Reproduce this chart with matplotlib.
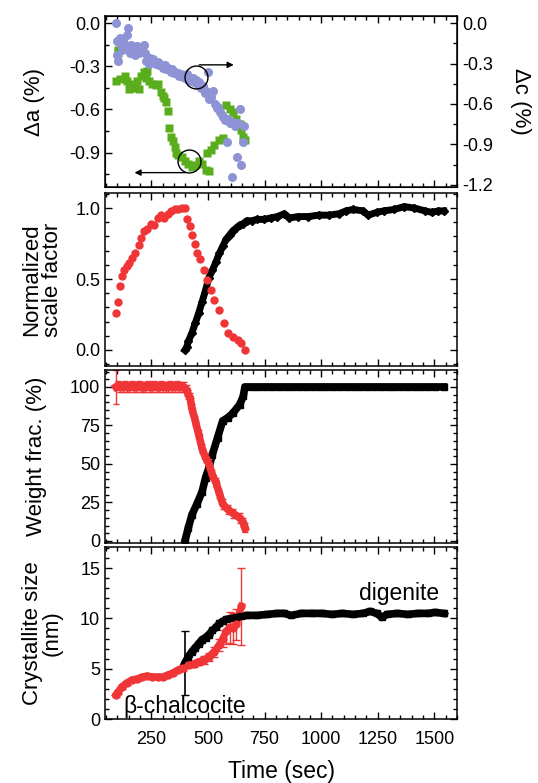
import matplotlib
matplotlib.use('Agg')
import matplotlib.pyplot as plt
from matplotlib.ticker import MultipleLocator

plt.rcParams['font.family'] = ['Liberation Sans', 'DejaVu Sans']
plt.rcParams['axes.unicode_minus'] = False

# ---------------- data ----------------
# top panel: change of lattice parameter c (blue circles, right axis)
dc_time = [93, 96, 99, 102, 106, 112, 118, 122, 128, 134, 140, 146, 150, 155, 160,
           166, 172, 178, 183, 188, 194, 199, 205, 210, 216, 222, 228, 234, 240, 246,
           252, 258, 265, 271, 278, 284, 290, 297, 303, 310, 316, 322, 330, 336, 343,
           350, 356, 362, 368, 374, 381, 388, 395, 400, 406, 412, 418, 425, 432, 440,
           447, 455, 462, 470, 478, 485, 492, 500, 506, 515, 522, 530, 538, 546, 553,
           560, 567, 575, 582, 590, 597, 604, 610, 618, 626, 632, 640, 648, 655, 660]
dc_val = [0.00, -0.13, -0.24, -0.28, -0.14, -0.11, -0.18, -0.20, -0.15, -0.17, -0.09,
          -0.04, -0.19, -0.22, -0.16, -0.18, -0.21, -0.24, -0.20, -0.17, -0.22, -0.19,
          -0.21, -0.18, -0.16, -0.22, -0.28, -0.26, -0.30, -0.26, -0.28, -0.27, -0.29,
          -0.30, -0.29, -0.31, -0.30, -0.32, -0.33, -0.31, -0.34, -0.33, -0.35, -0.36,
          -0.34, -0.37, -0.36, -0.38, -0.37, -0.39, -0.38, -0.40, -0.39, -0.41, -0.38,
          -0.42, -0.40, -0.43, -0.41, -0.44, -0.42, -0.46, -0.44, -0.48, -0.47, -0.52,
          -0.50, -0.36, -0.56, -0.55, -0.50, -0.60, -0.63, -0.62, -0.66, -0.68, -0.70,
          -0.72, -0.88, -0.71, -0.74, -1.14, -0.73, -0.76, -0.99, -0.74, -0.64, -1.05,
          -0.88, -0.76]

# top panel: change of lattice parameter a (green squares, left axis)
da_time = [95, 103, 103, 111, 133, 141, 149, 156, 171, 179, 186, 194, 202, 217, 224,
           232, 239, 254, 270, 277, 292, 300, 307, 315, 323, 327, 338, 345, 353, 360,
           368, 383, 398, 413, 428, 444, 459, 474, 489, 504, 497, 512, 527, 550, 565,
           580, 595, 610, 625, 640, 648, 655, 663]
da_val = [-0.40, -0.19, -0.21, -0.39, -0.37, -0.40, -0.46, -0.43, -0.42, -0.45, -0.40,
          -0.46, -0.37, -0.34, -0.38, -0.33, -0.40, -0.42, -0.43, -0.42, -0.48, -0.51,
          -0.52, -0.55, -0.61, -0.73, -0.79, -0.82, -0.86, -0.90, -0.92, -0.93, -0.96,
          -0.98, -1.00, -0.99, -0.96, -0.98, -1.02, -1.03, -0.90, -0.88, -0.85, -0.81,
          -0.80, -0.57, -0.60, -0.62, -0.67, -0.70, -0.74, -0.79, -0.81]

# normalized scale factor
sf_chal_time = [93, 103, 111, 118, 129, 141, 153, 164, 179, 194, 202, 217, 232, 247,
                262, 277, 292, 307, 323, 338, 353, 368, 383, 398, 406, 421, 429, 444,
                451, 466, 482, 497, 512, 527, 550, 572, 587, 610, 633, 648, 663]
sf_chal_val = [0.26, 0.34, 0.45, 0.52, 0.56, 0.59, 0.61, 0.65, 0.68, 0.74, 0.79, 0.84,
               0.85, 0.89, 0.88, 0.93, 0.95, 0.93, 0.96, 0.98, 0.99, 0.99, 1.00, 1.00,
               0.92, 0.87, 0.81, 0.75, 0.68, 0.64, 0.56, 0.49, 0.42, 0.35, 0.28, 0.19,
               0.12, 0.09, 0.07, 0.05, 0.00]
sf_dig_time = [398, 406, 413, 429, 444, 459, 474, 489, 504, 519, 535, 550, 565, 580,
               595, 610, 625, 640, 656, 671, 693, 716, 746, 777, 807, 837, 860, 898,
               943, 989, 1034, 1079, 1110, 1140, 1185, 1208, 1246, 1276, 1322, 1367,
               1412, 1458, 1488, 1518, 1541]
sf_dig_val = [0.00, 0.02, 0.06, 0.12, 0.19, 0.26, 0.34, 0.42, 0.51, 0.56, 0.62, 0.68,
              0.73, 0.78, 0.81, 0.84, 0.86, 0.88, 0.89, 0.91, 0.91, 0.92, 0.92, 0.93,
              0.94, 0.96, 0.93, 0.94, 0.94, 0.95, 0.95, 0.96, 0.98, 0.99, 0.98, 0.95,
              0.97, 0.98, 0.99, 1.01, 1.00, 0.98, 0.97, 0.98, 0.98]

# weight fraction (%)
wf_chal_time = [93, 103, 113, 123, 133, 143, 153, 163, 173, 183, 193, 203, 213, 223,
                233, 243, 253, 263, 273, 283, 293, 303, 313, 323, 333, 343, 353, 363,
                373, 383, 393, 406, 413, 421, 429, 444, 459, 474, 489, 504, 519, 535,
                550, 565, 587, 610, 640, 656, 663]
wf_chal_val = [100, 101, 100, 100, 101, 100, 100, 101, 100, 100, 101, 100, 100, 100,
               101, 100, 100, 101, 100, 100, 101, 100, 100, 100, 101, 100, 100, 101,
               100, 100, 100, 98, 95, 93, 86, 78, 69, 60, 54, 50, 43, 38, 31, 24, 20.5,
               18, 15, 12, 8.6]
wf_chal_err = [11, 3, 3, 3, 3, 3, 3, 3, 3, 3, 3, 3, 3, 3, 3, 3, 3, 3, 3, 3, 3, 3, 3,
               3, 3, 3, 3, 3, 3, 3, 3, 3, 3, 3, 3, 3, 3, 3, 3, 3, 3, 3, 3, 3, 3, 3, 3,
               3, 3]
wf_dig_time = [398, 413, 429, 451, 474, 489, 504, 519, 542, 565, 587, 610, 640, 656,
               663, 693, 723, 753, 783, 813, 843, 873, 903, 933, 963, 993, 1023, 1053,
               1083, 1113, 1143, 1173, 1203, 1233, 1263, 1293, 1323, 1353, 1383, 1413,
               1443, 1473, 1503, 1541]
wf_dig_val = [0, 8.6, 17, 24, 32, 41, 47.5, 56, 67, 78, 80, 83, 88.6, 94, 100, 100,
              100, 100, 100, 100, 100, 100, 100, 100, 100, 100, 100, 100, 100, 100,
              100, 100, 100, 100, 100, 100, 100, 100, 100, 100, 100, 100, 100, 100]

# crystallite size (nm)
cs_chal_time = [93, 103, 118, 141, 164, 186, 209, 232, 254, 277, 300, 323, 345, 368,
                391, 413, 436, 459, 482, 504, 527, 550, 565, 580, 595, 610, 625, 648]
cs_chal_val = [2.4, 2.7, 3.2, 3.6, 3.9, 4.0, 4.2, 4.3, 4.2, 4.2, 4.2, 4.4, 4.6, 4.9,
               5.1, 5.4, 5.5, 5.7, 5.9, 6.2, 6.7, 7.4, 8.0, 8.7, 9.1, 9.0, 9.4, 11.2]
cs_chal_err = [0.2, 0.2, 0.2, 0.2, 0.2, 0.2, 0.2, 0.2, 0.2, 0.2, 0.2, 0.2, 0.2, 0.2,
               0.3, 0.3, 0.3, 0.3, 0.4, 0.4, 0.5, 0.6, 0.8, 1.2, 1.5, 1.5, 1.5, 3.8]
cs_dig_time = [398, 413, 429, 444, 459, 474, 489, 504, 519, 535, 550, 565, 580, 603,
               625, 648, 671, 716, 762, 807, 837, 867, 913, 958, 1004, 1049, 1094,
               1140, 1185, 1216, 1246, 1268, 1291, 1337, 1382, 1428, 1473, 1503, 1541]
cs_dig_val = [5.55, 6.2, 6.7, 7.1, 7.5, 7.9, 8.1, 8.4, 8.8, 9.1, 9.5, 9.7, 9.9, 10.0,
              10.1, 10.2, 10.3, 10.3, 10.4, 10.5, 10.5, 10.3, 10.5, 10.5, 10.5, 10.4,
              10.5, 10.4, 10.5, 10.7, 10.5, 10.1, 10.4, 10.5, 10.4, 10.5, 10.5, 10.6,
              10.5]
cs_dig_err = [3.15] + [0.0] * 38

RED = '#ef3535'
BLUE = '#8d93d5'
GREEN = '#5aad1c'
TICK_FS = 13
LABEL_FS = 16


def style(ax, xlabels=False):
    ax.set_xlim(45, 1600)
    ax.xaxis.set_major_locator(MultipleLocator(250))
    ax.xaxis.set_minor_locator(MultipleLocator(50))
    ax.tick_params(which='both', direction='in', top=True, right=True,
                   labelsize=TICK_FS, labelbottom=xlabels, width=1)
    ax.tick_params(which='major', length=5)
    ax.tick_params(which='minor', length=3)
    ax.tick_params(axis='x', pad=9)
    for s in ax.spines.values():
        s.set_linewidth(1.1)


fig = plt.figure(figsize=(5.38, 7.83), dpi=100)
L, W = 105 / 538, 352 / 538
ax1 = fig.add_axes([L, 1 - 187 / 783, W, 171 / 783])
ax2 = fig.add_axes([L, 1 - 366 / 783, W, 173 / 783])
ax3 = fig.add_axes([L, 1 - 543 / 783, W, 173 / 783])
ax4 = fig.add_axes([L, 1 - 719 / 783, W, 172 / 783])

# --- panel 1 ---
style(ax1)
ax1.tick_params(which='both', right=False)
ax1r = ax1.twinx()
ax1r.tick_params(which='both', direction='in', labelsize=TICK_FS, width=1)
ax1r.tick_params(which='major', length=5)
ax1r.tick_params(which='minor', length=3)
ax1.plot(da_time, da_val, 's', color=GREEN, ms=5.5, mec='none')
ax1r.plot(dc_time, dc_val, 'o', color=BLUE, ms=6.5, mec='none')
ax1.set_ylim(-1.14, 0.05)
ax1.yaxis.set_major_locator(MultipleLocator(0.3))
ax1.yaxis.set_minor_locator(MultipleLocator(0.15))
ax1r.set_ylim(-1.215, 0.052)
ax1r.yaxis.set_major_locator(MultipleLocator(0.3))
ax1r.yaxis.set_minor_locator(MultipleLocator(0.15))
ax1.yaxis.set_major_formatter(lambda v, p: f'{v:.1f}')
ax1r.yaxis.set_major_formatter(lambda v, p: f'{v:.1f}')
ax1.set_ylabel('Δa (%)', fontsize=LABEL_FS)
ax1.yaxis.set_label_coords(-0.17, 0.5)
ax1r.set_ylabel('Δc (%)', fontsize=LABEL_FS, rotation=270, va='bottom')
ax1r.yaxis.set_label_coords(1.15, 0.5)
# guide circles and arrows
ax1r.plot([449], [-0.40], 'o', ms=16.5, mfc='none', mec='black', mew=1)
ax1r.annotate('', xy=(626, -0.31), xytext=(449, -0.31),
              arrowprops=dict(arrowstyle='-|>', color='black', lw=1, mutation_scale=9))
ax1.plot([415], [-0.96], 'o', ms=16.5, mfc='none', mec='black', mew=1)
ax1.annotate('', xy=(163, -1.04), xytext=(415, -1.04),
             arrowprops=dict(arrowstyle='-|>', color='black', lw=1, mutation_scale=9))

# --- panel 2 ---
style(ax2)
ax2.plot(sf_dig_time, sf_dig_val, '-', color='black', lw=5)
ax2.plot(sf_dig_time, sf_dig_val, 'D', color='black', ms=4.5)
ax2.plot(sf_chal_time, sf_chal_val, 'o', color=RED, ms=6, mec='none')
ax2.set_ylim(-0.113, 1.106)
ax2.yaxis.set_major_locator(MultipleLocator(0.5))
ax2.yaxis.set_minor_locator(MultipleLocator(0.1))
ax2.yaxis.set_major_formatter(lambda v, p: f'{v:.1f}')
ax2.set_ylabel('Normalized\nscale factor', fontsize=LABEL_FS, linespacing=0.95)
ax2.yaxis.set_label_coords(-0.12, 0.5)

# --- panel 3 ---
style(ax3)
ax3.plot(wf_dig_time, wf_dig_val, '-', color='black', lw=5.5)
ax3.plot(wf_dig_time, wf_dig_val, 's', color='black', ms=5)
ax3.plot(wf_chal_time, wf_chal_val, '-', color=RED, lw=5.5)
ax3.errorbar(wf_chal_time, wf_chal_val, yerr=wf_chal_err, fmt='o', color=RED, ms=5.5,
             capsize=2.5, elinewidth=1, mec='none')
ax3.set_ylim(-1.3, 111)
ax3.yaxis.set_major_locator(MultipleLocator(25))
ax3.yaxis.set_minor_locator(MultipleLocator(5))
ax3.set_ylabel('Weight frac. (%)', fontsize=LABEL_FS)
ax3.yaxis.set_label_coords(-0.165, 0.5)

# --- panel 4 ---
style(ax4, xlabels=True)
ax4.plot(cs_dig_time, cs_dig_val, '-', color='black', lw=5.5)
ax4.errorbar(cs_dig_time, cs_dig_val, yerr=cs_dig_err, fmt='s', color='black', ms=5,
             capsize=3, elinewidth=1.2)
ax4.plot(cs_chal_time, cs_chal_val, '-', color=RED, lw=5)
ax4.errorbar(cs_chal_time, cs_chal_val, yerr=cs_chal_err, fmt='o', color=RED, ms=6,
             capsize=3, elinewidth=1, mec='none')
ax4.set_ylim(0, 17.1)
ax4.yaxis.set_major_locator(MultipleLocator(5))
ax4.yaxis.set_minor_locator(MultipleLocator(1))
ax4.set_ylabel('Crystallite size\n(nm)', fontsize=LABEL_FS, linespacing=0.95)
ax4.yaxis.set_label_coords(-0.12, 0.5)
ax4.set_xlabel('Time (sec)', fontsize=16.5, labelpad=8)
ax4.text(1345, 12.5, 'digenite', fontsize=16.5, ha='center', va='center')
ax4.text(124, 0.6, 'β-chalcocite', fontsize=16.5, ha='left', va='baseline')

fig.savefig('out.png', dpi=100)
